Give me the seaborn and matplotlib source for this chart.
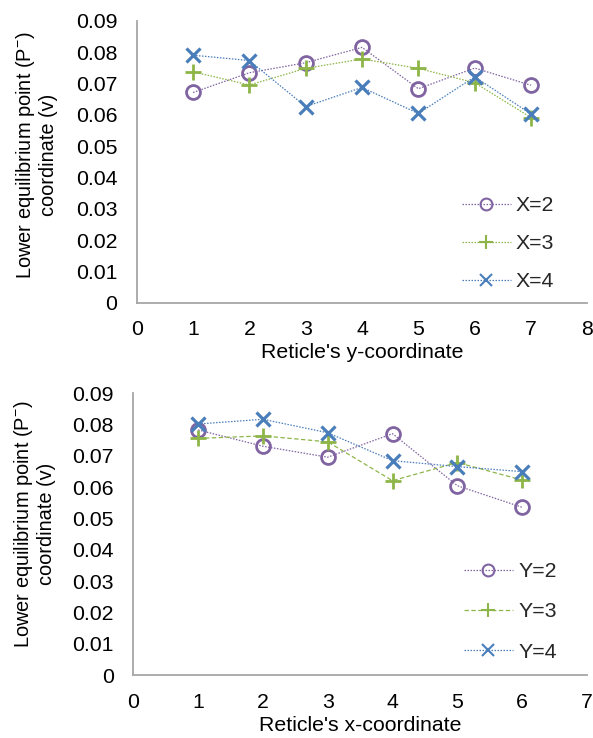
import matplotlib
matplotlib.use("Agg")
import matplotlib.pyplot as plt
import seaborn as sns
import pandas as pd

# ---- data ----
y_coords = [1, 2, 3, 4, 5, 6, 7]
x2_vals = [0.0671, 0.0734, 0.0766, 0.0815, 0.0683, 0.0749, 0.0694]
x3_vals = [0.0737, 0.0695, 0.0748, 0.0778, 0.0748, 0.0702, 0.0591]
x4_vals = [0.0790, 0.0773, 0.0626, 0.0687, 0.0604, 0.0721, 0.0602]

x_coords = [1, 2, 3, 4, 5, 6]
y2_vals = [0.0783, 0.0731, 0.0696, 0.0771, 0.0605, 0.0536]
y3_vals = [0.0756, 0.0764, 0.0745, 0.0621, 0.0679, 0.0623]
y4_vals = [0.0802, 0.0817, 0.0774, 0.0685, 0.0666, 0.0650]

top_labels = ["X=2", "X=3", "X=4"]
bot_labels = ["Y=2", "Y=3", "Y=4"]
y_ticks = [0, 0.01, 0.02, 0.03, 0.04, 0.05, 0.06, 0.07, 0.08, 0.09]
y_tick_labels = ["0", "0.01", "0.02", "0.03", "0.04", "0.05", "0.06", "0.07", "0.08", "0.09"]
top_xticks = [0, 1, 2, 3, 4, 5, 6, 7, 8]
bot_xticks = [0, 1, 2, 3, 4, 5, 6, 7]
ylabel_lines = ["Lower equilibrium point (P$^{-}$)", "coordinate (v)"]
top_xlabel = "Reticle's y-coordinate"
bot_xlabel = "Reticle's x-coordinate"

# ---- style ----
sns.set_style("white")
plt.rcParams["font.family"] = ["Liberation Sans", "DejaVu Sans"]
plt.rcParams["mathtext.fontset"] = "custom"
plt.rcParams["mathtext.rm"] = "Liberation Sans"
plt.rcParams["mathtext.it"] = "Liberation Sans:italic"
plt.rcParams["mathtext.bf"] = "Liberation Sans:bold"

PURPLE = "#8064A2"
GREEN = "#8DB548"
BLUE = "#4A7EBB"
SPINE = "#A6A6A6"
FS = 15.3
FS_Y = 14.4

fig = plt.figure(figsize=(5.93, 7.38), dpi=100)
ax1 = fig.add_axes([0.2305, 0.5898, 0.7600, 0.3821])
ax2 = fig.add_axes([0.2248, 0.0850, 0.7650, 0.3821])

dot = (0, (1.2, 1.2))
dash = (0, (3.5, 2.0))


def draw(ax, xs, series, labels, styles):
    for vals, lab, (col, mk, ms, mew, ls) in zip(series, labels, styles):
        df = pd.DataFrame({"x": xs, "v": vals})
        kw = dict(marker=mk, markersize=ms, markeredgewidth=mew,
                  markeredgecolor=col, linestyle=ls, linewidth=0.9)
        if mk == "o":
            kw["markerfacecolor"] = "none"
        sns.lineplot(data=df, x="x", y="v", ax=ax, color=col, label=lab, **kw)


top_styles = [(PURPLE, "o", 10, 2.0, dot), (GREEN, "+", 12, 2.0, dot), (BLUE, "x", 10, 2.3, dot)]
bot_styles = [(PURPLE, "o", 10, 2.0, dot), (GREEN, "+", 12, 2.0, dash), (BLUE, "x", 10, 2.3, dot)]

draw(ax1, y_coords, [x2_vals, x3_vals, x4_vals], top_labels, top_styles)
draw(ax2, x_coords, [y2_vals, y3_vals, y4_vals], bot_labels, bot_styles)

# label line centres in figure pixels: (x_line1, x_line2, y_centre)
for ax, xt, xlab, xmax, lab_px, legx, legy, lsp in [
    (ax1, top_xticks, top_xlabel, 8, (26, 48, 155), 0.7213, 0.209, 0.9),
    (ax2, bot_xticks, bot_xlabel, 7, (24, 46, 524), 0.729, 0.2245, 1.0),
]:
    ax.set_xlim(0, xmax)
    ax.set_ylim(0, 0.09)
    ax.set_xticks(xt)
    ax.set_xticklabels([str(t) for t in xt])
    ax.set_yticks(y_ticks)
    ax.set_yticklabels(y_tick_labels)
    for s in ["top", "right"]:
        ax.spines[s].set_visible(False)
    for s in ["left", "bottom"]:
        ax.spines[s].set_color(SPINE)
        ax.spines[s].set_linewidth(1.3)
    ax.tick_params(axis="x", direction="inout", length=12, width=1.3, color=SPINE,
                   labelsize=FS, pad=6.5, labelcolor="black")
    ax.tick_params(axis="y", direction="in", length=5, width=1.3, color=SPINE,
                   labelsize=FS, pad=14, labelcolor="black")
    ax.set_xlabel(xlab, fontsize=FS, labelpad=3, color="black")
    ax.set_ylabel("")
    W, H = 593, 738
    for line, xp in zip(ylabel_lines, lab_px[:2]):
        fig.text(xp / W, 1 - lab_px[2] / H, line, rotation=90, ha="center",
                 va="center", fontsize=FS_Y, color="black")
    ax.grid(False)
    ax.set_facecolor("white")
    leg = ax.legend(loc="center left", bbox_to_anchor=(legx, legy), frameon=False,
                    fontsize=FS, borderpad=0, borderaxespad=0, handlelength=2.3,
                    handletextpad=0.25, labelspacing=lsp, markerscale=0.85)
    for h in leg.legend_handles:
        h.set_markeredgewidth(1.5)

fig.savefig("out.png", dpi=100, facecolor="white")
